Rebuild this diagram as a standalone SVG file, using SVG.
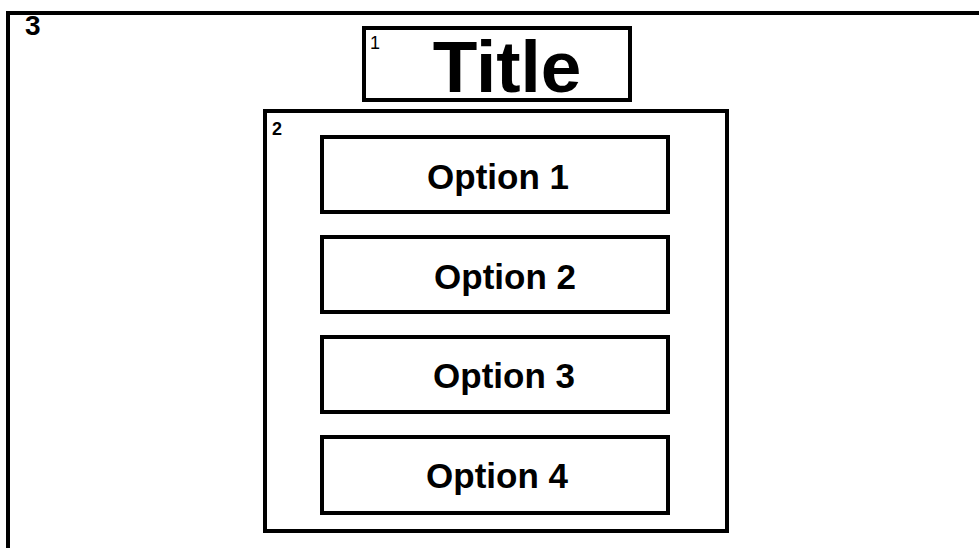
<svg xmlns="http://www.w3.org/2000/svg" width="979" height="548" viewBox="0 0 979 548">
<style>
.box{fill:#fff;stroke:#000;stroke-width:4}
.opt{font-family:"Liberation Sans",Arial,sans-serif;font-weight:bold;font-size:35px;text-anchor:middle;fill:#000}
.lbl{font-family:"Liberation Sans",Arial,sans-serif;fill:#000}
</style>
<rect width="979" height="548" fill="#fff"/>
<g id="frame3">
<rect class="box" x="8" y="13" width="990" height="560"/>
<text class="lbl" x="25" y="35" font-size="28" font-weight="bold">3</text>
</g>
<g id="title1">
<rect class="box" x="364" y="28" width="266" height="72"/>
<text class="lbl" x="370" y="49" font-size="18">1</text>
<text class="lbl" x="507" y="92" font-size="73" font-weight="bold" text-anchor="middle">Title</text>
</g>
<g id="menu2">
<rect class="box" x="265" y="111" width="462" height="420"/>
<text class="lbl" x="272" y="135" font-size="18" font-weight="bold">2</text>
</g>
<g id="option1">
<rect class="box" x="322" y="137" width="346" height="75"/>
<text class="opt" x="498" y="189">Option 1</text>
</g>
<g id="option2">
<rect class="box" x="322" y="237" width="346" height="75"/>
<text class="opt" x="505" y="289">Option 2</text>
</g>
<g id="option3">
<rect class="box" x="322" y="337" width="346" height="75"/>
<text class="opt" x="504" y="388">Option 3</text>
</g>
<g id="option4">
<rect class="box" x="322" y="437" width="346" height="76"/>
<text class="opt" x="497" y="488">Option 4</text>
</g>
<g id="connectors"></g>
</svg>
